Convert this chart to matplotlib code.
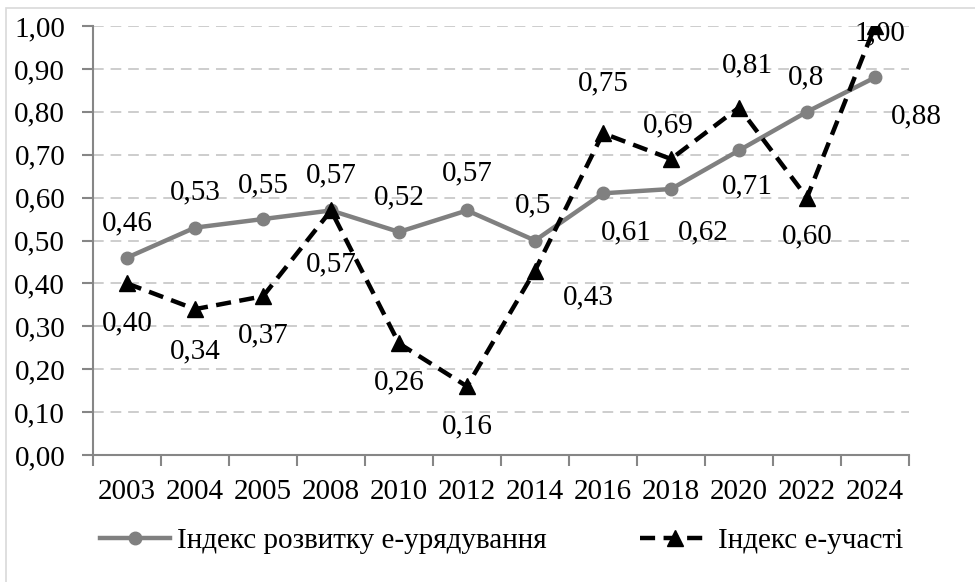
import matplotlib

matplotlib.use("Agg")
import matplotlib.pyplot as plt
from matplotlib.patches import Rectangle
from matplotlib.ticker import FuncFormatter, FixedLocator
import numpy as np

years = ["2003", "2004", "2005", "2008", "2010", "2012", "2014", "2016", "2018", "2020", "2022", "2024"]
egov_index = [0.46, 0.53, 0.55, 0.57, 0.52, 0.57, 0.50, 0.61, 0.62, 0.71, 0.80, 0.88]
epart_index = [0.40, 0.34, 0.37, 0.57, 0.26, 0.16, 0.43, 0.75, 0.69, 0.81, 0.60, 1.00]
egov_name = "Індекс розвитку е-урядування"
epart_name = "Індекс е-участі"

# label offsets in pixels (dx, dy) from each point, as placed in the original
egov_offsets = [(0, 34), (0, 35), (0, 34), (0, 35), (0, 35), (0, 37),
                (-2, 35), (23, -39), (32, -43), (8, -36), (-1, 34), (41, -39)]
epart_offsets = [(0, -40), (0, -42), (0, -39), (0, -54), (0, -39), (0, -40),
                 (53, -27), (0, 50), (-3, 34), (8, 42), (0, -39), (5, -7)]

plt.rcParams["font.family"] = ["Liberation Serif", "DejaVu Serif"]
FS = 21
AXIS_GREY = "#868686"

fig = plt.figure(figsize=(9.75, 5.82), dpi=100)
ax = fig.add_axes([93 / 975, 1 - 455 / 582, (909 - 93) / 975, (455 - 26) / 582])

x = np.arange(len(years))

ax.plot(x, egov_index, color="#808080", lw=3.2, marker="o", markersize=9,
        label=egov_name, zorder=3)
ax.plot(x, epart_index, color="black", lw=3.2, linestyle=(0, (3.4, 1.9)),
        dash_capstyle="butt", marker="^", markersize=11, label=epart_name, zorder=4)

for xi, v, (dx, dy) in zip(x, egov_index, egov_offsets):
    ax.annotate(f"{v:g}".replace(".", ","), (xi, v), xytext=(dx, dy),
                textcoords="offset pixels", ha="center", va="center", fontsize=FS, zorder=5)
for xi, v, (dx, dy) in zip(x, epart_index, epart_offsets):
    ax.annotate(f"{v:.2f}".replace(".", ","), (xi, v), xytext=(dx, dy),
                textcoords="offset pixels", ha="center", va="center", fontsize=FS, zorder=5)

ax.set_xlim(-0.5, len(years) - 0.5)
ax.set_ylim(0, 1.0)
ax.set_yticks(np.arange(0, 1.01, 0.1))
ax.yaxis.set_major_formatter(FuncFormatter(lambda v, _: f"{v:.2f}".replace(".", ",")))
ax.set_xticks(x)
ax.set_xticklabels(years)
ax.xaxis.set_minor_locator(FixedLocator(np.arange(-0.5, len(years), 1)))

ax.tick_params(axis="x", which="major", length=0, pad=17, labelsize=FS)
ax.tick_params(axis="x", which="minor", length=8, width=1.5, color=AXIS_GREY)
ax.tick_params(axis="y", length=8, width=1.5, color=AXIS_GREY, pad=12, labelsize=FS)

for side in ("top", "right"):
    ax.spines[side].set_visible(False)
for side in ("left", "bottom"):
    ax.spines[side].set_color(AXIS_GREY)
    ax.spines[side].set_linewidth(1.5)

ax.yaxis.grid(True, color="#c0c0c0", linestyle=(0, (7, 4.5)), lw=1.1)
ax.set_axisbelow(True)

fig.legend(loc="center left", bbox_to_anchor=(100 / 975, 1 - 541 / 582),
           ncol=2, frameon=False, fontsize=FS, handlelength=2.4,
           handletextpad=0.25, columnspacing=3.2, borderpad=0, borderaxespad=0)

fig.patches.append(Rectangle((6 / 975, -0.1), 1.2, 1.1 - 8 / 582, transform=fig.transFigure,
                             fill=False, edgecolor="#d9d9d9", lw=1.2))

fig.savefig("out.png", dpi=100)
